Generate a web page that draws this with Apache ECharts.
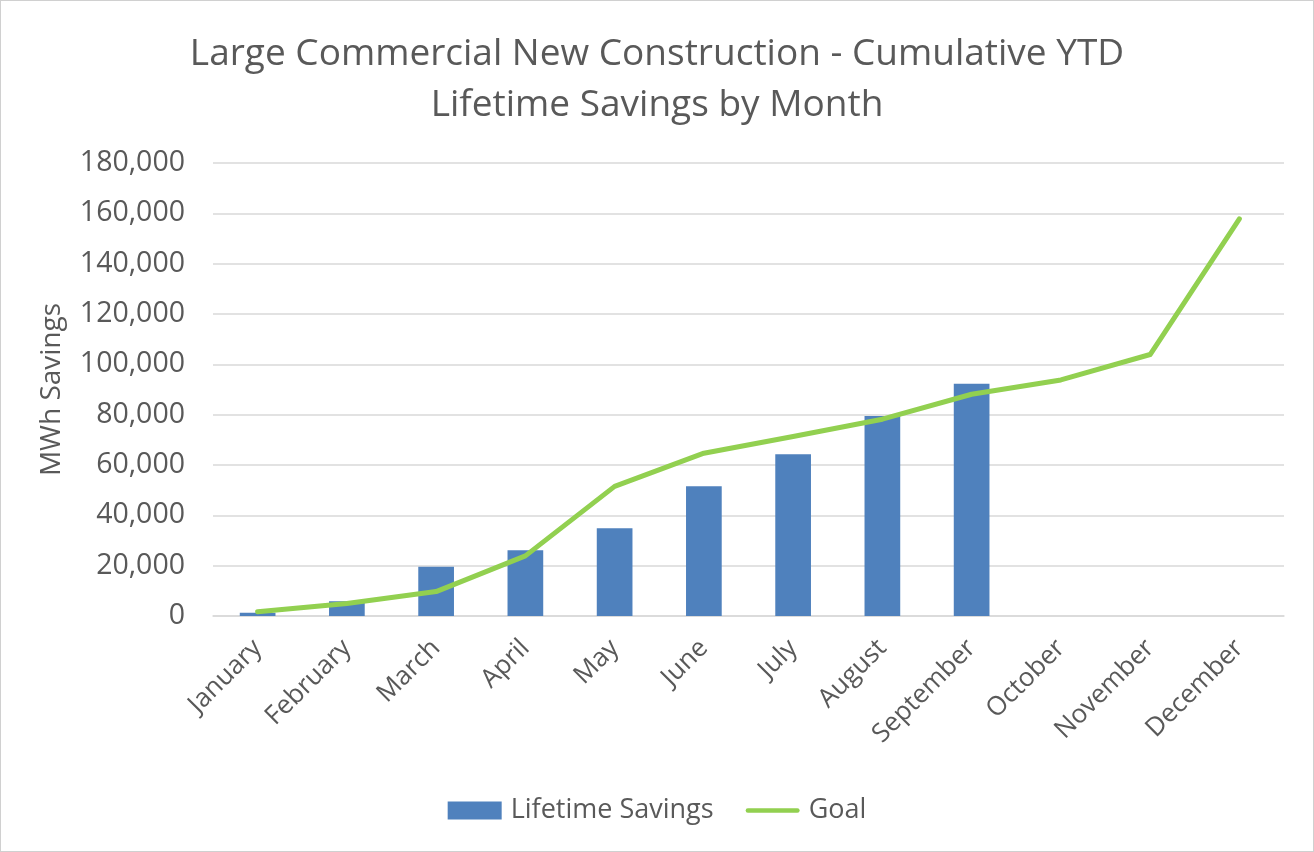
<!DOCTYPE html>
<html><head><meta charset="utf-8">
<script src="https://cdn.jsdelivr.net/npm/echarts@6/dist/echarts.min.js"></script>
<style>html,body{margin:0;padding:0;background:#fff}#c{width:1312px;height:850px;border:1px solid #d0d0d0}</style>
</head><body><div id="c"></div>
<script>
const months = ['January','February','March','April','May','June','July','August','September','October','November','December'];
const lifetimeSavings = [1300, 5900, 19600, 26100, 34900, 51600, 64300, 79500, 92300, null, null, null];
const goal = [1700, 5000, 9700, 23900, 51500, 64700, 71300, 78200, 88100, 93800, 103900, 157800];
const yTicks = {min: 0, max: 180000, interval: 20000};
const FONT = 'Open Sans';
const GREY = '#595959';
const chart = echarts.init(document.getElementById('c'));
chart.setOption({
  animation: false,
  title: {
    text: 'Large Commercial New Construction - Cumulative YTD\nLifetime Savings by Month',
    left: 'center', top: 23,
    textStyle: {fontFamily: FONT, fontSize: 37, fontWeight: 'normal', color: GREY, lineHeight: 51}
  },
  legend: {
    bottom: 22, left: 'center', itemGap: 32,
    textStyle: {fontFamily: FONT, fontSize: 27, color: GREY, padding: [0, 0, 0, 4]},
    data: [
      {name: 'Lifetime Savings', icon: 'rect', itemStyle: {color: '#4f81bd'}},
      {name: 'Goal', icon: 'path://M2.5,0 L57.5,0 A2.5,2.5 0 0 1 57.5,5 L2.5,5 A2.5,2.5 0 0 1 2.5,0 Z'}
    ],
    itemWidth: 54, itemHeight: 18
  },
  grid: {left: 212, right: 29, top: 162, bottom: 235, containLabel: false},
  xAxis: {
    type: 'category', data: months,
    axisLine: {lineStyle: {color: '#d9d9d9', width: 1.5}},
    axisTick: {show: false},
    axisLabel: {rotate: 45, fontFamily: FONT, fontSize: 26, color: GREY, margin: 28}
  },
  yAxis: {
    type: 'value', min: yTicks.min, max: yTicks.max, interval: yTicks.interval,
    name: 'MWh Savings', nameLocation: 'middle', nameGap: 147, nameRotate: 90,
    nameTextStyle: {fontFamily: FONT, fontSize: 28, color: GREY},
    axisLine: {show: false}, axisTick: {show: false},
    splitLine: {lineStyle: {color: '#d9d9d9', width: 1.5}},
    axisLabel: {fontFamily: FONT, fontSize: 28.5, color: GREY, margin: 28,
      formatter: v => v.toLocaleString('en-US')}
  },
  series: [
    {name: 'Lifetime Savings', type: 'bar', data: lifetimeSavings, barWidth: '40%',
     itemStyle: {color: '#4f81bd'}},
    {name: 'Goal', type: 'line', data: goal, symbol: 'none',
     lineStyle: {color: '#92d050', width: 5, cap: 'round', join: 'round'}, itemStyle: {color: '#92d050'}}
  ]
});
</script></body></html>
